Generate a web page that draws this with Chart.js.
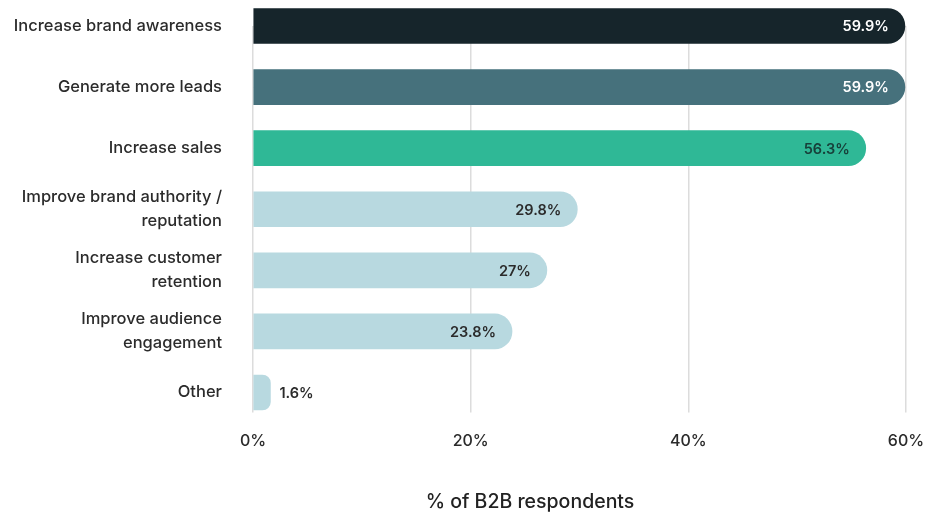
<!DOCTYPE html>
<html>
<head>
<meta charset="utf-8">
<script src="https://cdn.jsdelivr.net/npm/chart.js@4"></script>
<style>
  html, body { margin: 0; padding: 0; background: #fff; }
  #wrap { width: 928px; height: 516px; }
</style>
</head>
<body>
<div id="wrap"><canvas id="goalsChart" width="928" height="516"></canvas></div>
<script>
const categories = [
    'Increase brand awareness',
    'Generate more leads',
    'Increase sales',
    ['Improve brand authority /', 'reputation'],
    ['Increase customer', 'retention'],
    ['Improve audience', 'engagement'],
    'Other'
];
const respondents = [59.9, 59.9, 56.3, 29.8, 27, 23.8, 1.6];
const valueLabels = ['59.9%', '59.9%', '56.3%', '29.8%', '27%', '23.8%', '1.6%'];
const xTicks = [0, 20, 40, 60];

const barColors = ['#16252b', '#46717c', '#2fb896', '#b8d9e0', '#b8d9e0', '#b8d9e0', '#b8d9e0'];
const labelColors = ['#ffffff', '#ffffff', '#17403a', '#2b2b2b', '#2b2b2b', '#2b2b2b', '#2b2b2b'];
const FONT = 'Inter';

// value labels at the end of each bar, plus the axis caption
const barValues = {
    id: 'barValues',
    afterDatasetsDraw(chart) {
        const ctx = chart.ctx;
        const meta = chart.getDatasetMeta(0);
        ctx.save();
        ctx.font = '600 14.5px ' + FONT;
        ctx.textBaseline = 'middle';
        meta.data.forEach((bar, i) => {
            const width = bar.x - bar.base;
            if (width > 50) {
                ctx.textAlign = 'right';
                ctx.fillStyle = labelColors[i];
                ctx.fillText(valueLabels[i], bar.x - 16, bar.y + 1);
            } else {
                ctx.textAlign = 'left';
                ctx.fillStyle = '#2b2b2b';
                ctx.fillText(valueLabels[i], bar.x + 9, bar.y + 1);
            }
        });
        ctx.font = '500 19.5px ' + FONT;
        ctx.fillStyle = '#222';
        ctx.textAlign = 'center';
        ctx.fillText('% of B2B respondents', 530, 502);
        ctx.restore();
    }
};

const ctx = document.getElementById('goalsChart').getContext('2d');
const goalsChart = new Chart(ctx, {
    type: 'bar',
    data: {
        labels: categories,
        datasets: [{
            data: respondents,
            backgroundColor: barColors,
            barThickness: 35,
            borderRadius: 18,
            borderSkipped: 'start',
            clip: false
        }]
    },
    options: {
        indexAxis: 'y',
        responsive: false,
        animation: false,
        devicePixelRatio: 1,
        layout: { padding: { top: 26, right: 22, left: 0, bottom: 0 } },
        plugins: {
            legend: { display: false },
            tooltip: { enabled: false }
        },
        scales: {
            x: {
                min: 0,
                max: 60,
                afterBuildTicks: (scale) => { scale.ticks = xTicks.map(v => ({ value: v })); },
                afterFit: (scale) => {
                    scale.height = 123.5;
                    scale.paddingLeft = 0;
                    scale.paddingRight = 0;
                },
                grid: {
                    color: '#dcdcdc',
                    lineWidth: 1.5,
                    drawTicks: true,
                    tickLength: 20,
                    tickColor: '#dcdcdc'
                },
                border: { display: false },
                ticks: {
                    padding: 19,
                    color: '#2b2b2b',
                    font: { family: FONT, size: 16, weight: '500' },
                    callback: (v) => v + '%'
                }
            },
            y: {
                offset: false,
                afterFit: (scale) => {
                    scale.width = 253;
                    scale.paddingTop = 0;
                    scale.paddingBottom = 0;
                },
                grid: { display: false, drawTicks: false },
                border: { display: false },
                ticks: {
                    padding: 31,
                    color: '#2b2b2b',
                    font: { family: FONT, size: 16.5, weight: '500', lineHeight: 1.45 }
                }
            }
        }
    },
    plugins: [barValues]
});
</script>
</body>
</html>
